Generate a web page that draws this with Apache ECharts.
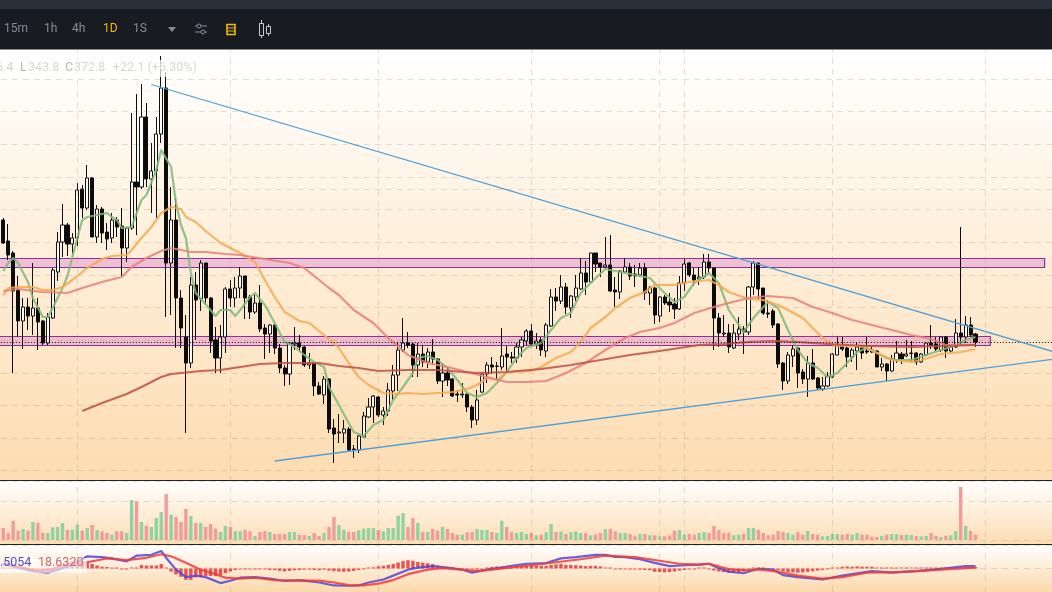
<!DOCTYPE html>
<html><head><meta charset="utf-8">
<style>html,body{margin:0;padding:0;background:#fff;overflow:hidden}#c{width:1052px;height:592px}</style>
<script src="https://cdn.jsdelivr.net/npm/echarts@6/dist/echarts.min.js"></script>
</head><body><div id="c"></div>
<script>
const open=[632,590,566,492,430,458,440,456,430,386,
436,528,588,622,584,596,694,656,716,598,
654,608,596,632,620,576,616,708,698,838,
714,730,804,896,546,632,476,398,346,502,
474,546,476,392,356,398,494,476,496,520,
478,448,466,416,404,422,376,336,324,384,
386,378,342,346,300,282,314,216,206,206,
214,174,172,198,238,258,278,242,250,290,
322,372,386,384,342,364,348,368,354,310,
326,314,284,282,284,258,232,288,324,342,
339,338,364,358,356,378,390,410,384,392,
370,420,478,470,498,456,478,494,526,508,
566,546,538,542,492,488,528,538,524,522,
536,486,496,440,478,468,464,454,506,546,
522,514,518,548,536,436,406,406,376,404,
414,408,498,546,496,446,450,424,346,310,
360,376,328,314,346,316,294,300,318,362,
380,376,358,370,378,370,372,370,338,344,
330,352,364,360,365,366,348,362,386,384,
372,398,370,378,406,398,422,404];
const close=[586,562,490,430,458,440,456,428,386,438,
532,588,622,584,596,692,656,716,598,654,
606,594,632,618,576,616,708,698,838,714,
730,804,896,546,632,476,416,346,502,472,
546,476,390,356,398,494,476,496,520,476,
448,466,414,404,422,376,336,324,386,386,
378,342,346,300,284,314,214,204,208,214,
172,173,200,240,258,280,242,250,292,322,
372,386,382,342,364,348,368,354,310,326,
312,280,282,284,258,232,272,324,342,338,
340,360,358,356,378,392,410,384,390,372,
422,478,470,498,458,480,496,526,508,566,
544,538,542,490,488,530,538,520,520,536,
486,496,442,478,466,462,454,506,544,522,
512,518,548,536,436,406,404,378,406,414,
408,498,546,494,446,444,422,344,310,362,
374,326,314,346,314,296,300,320,364,380,
374,358,372,378,366,368,368,338,344,330,
354,366,354,364,366,348,364,386,382,374,
398,370,378,406,398,422,402,388];
const high=[636,624,570,520,476,476,546,476,432,446,
536,608,664,626,606,706,702,742,718,662,
658,626,646,638,656,618,846,884,904,866,
786,838,960,928,698,676,492,442,518,528,
552,546,478,418,422,498,512,518,538,520,
482,482,502,424,424,424,384,342,386,418,
402,380,366,346,308,320,316,234,244,232,
218,182,202,248,276,282,280,258,306,342,
388,436,408,386,386,382,376,394,356,346,
338,316,292,306,286,262,292,326,348,358,
348,416,380,368,386,398,414,424,406,398,
426,494,496,522,506,482,522,556,550,566,
566,546,598,602,518,532,556,546,542,546,
546,500,498,480,482,486,476,520,554,548,
536,538,564,564,536,446,442,424,424,438,
420,500,550,546,496,472,454,426,348,368,
382,378,334,360,374,318,318,328,366,398,
398,382,376,386,380,398,378,372,356,346,
362,390,368,392,390,368,366,388,422,398,
398,400,382,434,618,440,438,406];
const low=[584,552,326,398,374,412,402,372,382,382,
434,510,558,560,564,580,636,652,598,586,
586,572,586,598,520,548,612,602,694,698,
646,636,786,438,442,376,376,206,336,392,
450,464,366,326,326,366,458,458,476,434,
434,444,408,354,366,364,326,300,302,372,
368,338,334,280,282,264,206,146,186,186,
170,156,166,198,236,226,238,222,240,272,
290,368,376,318,318,338,336,342,304,278,
300,278,268,276,248,216,222,286,306,324,
312,332,328,346,346,358,382,380,374,360,
358,418,450,464,444,436,470,492,482,506,
528,518,534,488,458,474,526,512,498,518,
472,462,424,428,462,448,434,452,490,518,
500,502,514,526,372,378,398,366,374,392,
364,402,482,474,442,436,416,336,292,304,
338,296,304,278,312,292,290,298,316,362,
370,338,348,332,354,364,366,338,330,310,
328,346,344,358,348,342,346,360,374,370,
368,356,368,376,382,386,398,378];
const volume=[36,21,58,28,33,28,54,51,21,21,
38,39,51,30,31,46,28,36,45,30,
26,21,16,26,26,21,120,116,54,43,
39,66,84,138,76,69,54,93,72,51,
51,39,48,34,24,42,39,26,26,30,
26,12,24,27,24,18,18,18,24,24,
15,15,12,21,12,21,39,69,45,31,
24,24,29,34,36,36,30,26,36,36,
73,81,39,66,51,24,24,33,28,39,
33,21,16,16,23,24,33,30,30,24,
21,58,39,24,21,24,18,21,14,16,
23,48,24,26,18,23,26,21,21,14,
16,21,33,33,26,21,21,18,11,18,
18,14,14,11,11,14,28,30,16,18,
16,21,24,21,42,30,21,21,14,16,
18,36,36,30,21,14,16,27,24,21,
16,24,16,27,18,16,11,12,18,18,
16,18,16,21,16,16,10,9,12,16,
18,18,15,16,15,12,11,12,21,12,
9,12,14,27,159,42,27,16];
const macdHist=[4,3,2,1,0,-2,-5,-7,-9,-10,
-8,-4,0,3,6,10,15,22,15,10,
6,5,3,1,-2,-2,2,0,12,10,
10,10,15,1,-10,-20,-28,-38,-38,-30,
-28,-25,-25,-25,-22,-16,-10,-5,-3,-2,
-1,-2,-3,-3,-5,-5,-8,-10,-8,-6,
-5,-4,-3,-5,-6,-4,-7,-9,-10,-11,
-10,-8,-5,-2,1,4,7,9,12,15,
20,25,28,26,22,20,18,15,10,6,
3,1,-1,-2,-3,-3,-4,-2,1,5,
7,7,6,7,8,9,10,11,10,9,
9,12,14,16,12,12,11,10,8,9,
9,7,3,1,-1,-1,-1,-2,-3,-4,
-5,-6,-11,-12,-13,-12,-10,-7,-5,-3,
-2,0,0,-1,-7,-10,-12,-14,-15,-13,
-9,-4,1,2,1,-1,-2,-6,-10,-12,
-13,-14,-13,-11,-9,-7,-5,-2,1,3,
6,7,6,7,6,6,6,3,2,2,
3,3,3,2,2,2,2,2,3,2,
3,3,3,3,4,4,4,5];
const ma7=[[0,530],[1,546],[2,556],[3,546],[5,508],[6,476],[8,438],[9,438],[10,456],[12,496],[13,520],[14,558],[15,596],[16,632],[17,638],[19,642],[21,646],[22,638],[23,632],[24,616],[26,618],[28,672],[29,682],[31,732],[32,772],[34,738],[35,666],[36,622],[37,596],[38,526],[39,486],[42,452],[43,440],[44,452],[46,452],[47,440],[48,452],[50,478],[51,486],[53,462],[55,426],[57,388],[59,378],[61,362],[63,348],[65,338],[66,298],[68,262],[71,208],[73,200],[75,222],[77,232],[79,272],[81,298],[83,326],[84,356],[86,360],[88,352],[90,336],[92,312],[94,286],[96,278],[98,286],[100,306],[102,328],[104,356],[106,376],[109,386],[111,412],[113,436],[115,446],[117,486],[119,506],[122,534],[126,526],[130,518],[131,516],[134,486],[136,468],[138,478],[140,506],[143,526],[145,506],[147,452],[150,408],[152,436],[154,458],[155,468],[157,456],[159,412],[161,372],[163,346],[165,336],[167,318],[169,326],[171,346],[173,368],[175,376],[177,366],[179,356],[181,352],[184,352],[187,362],[190,372],[192,378],[195,392],[197,398]];
const ma25=[[0,482],[1,496],[3,498],[6,498],[8,492],[10,492],[12,498],[14,512],[17,536],[20,554],[22,560],[25,562],[26,572],[28,596],[30,618],[32,646],[34,658],[36,654],[37,638],[39,628],[41,610],[44,586],[48,566],[51,548],[53,512],[55,478],[57,448],[60,430],[62,426],[65,402],[68,376],[70,346],[72,318],[74,302],[77,286],[80,284],[82,286],[85,284],[88,286],[91,288],[94,294],[96,302],[98,316],[100,312],[102,328],[107,330],[109,338],[112,356],[115,368],[117,388],[119,416],[122,438],[124,456],[127,476],[130,488],[132,502],[136,502],[139,508],[143,512],[145,502],[147,488],[151,474],[154,472],[157,462],[159,452],[162,436],[165,406],[167,388],[169,380],[173,380],[175,376],[178,362],[180,352],[184,348],[186,352],[190,364],[194,368],[197,374]];
const ma50=[[0,490],[3,494],[8,488],[13,486],[16,496],[20,508],[24,518],[26,538],[29,556],[32,570],[34,576],[38,568],[41,568],[45,564],[48,562],[53,554],[58,546],[61,536],[66,496],[68,482],[71,452],[75,426],[78,396],[82,362],[86,346],[90,338],[94,328],[98,318],[102,308],[106,308],[110,310],[114,326],[118,346],[122,372],[126,396],[129,408],[133,416],[136,426],[140,446],[144,458],[147,466],[151,476],[155,480],[160,476],[164,458],[168,446],[172,432],[176,422],[180,412],[184,402],[188,394],[191,382],[197,382]];
const ma200=[[16,250],[20,266],[25,284],[28,298],[32,318],[34,324],[40,330],[44,332],[48,338],[52,344],[57,346],[60,346],[64,346],[68,340],[72,336],[76,330],[82,332],[88,332],[96,326],[102,328],[109,334],[115,342],[121,352],[127,362],[133,370],[137,376],[141,382],[146,384],[151,388],[156,390],[161,388],[167,384],[175,380],[184,378],[191,380],[197,382]];
const dif=[[0,16],[3,3],[6,-9],[9,-14],[11,-4],[14,11],[17,41],[20,38],[22,34],[25,24],[27,43],[30,46],[32,59],[33,36],[35,-4],[37,-29],[39,-24],[41,-29],[44,-49],[46,-41],[48,-31],[51,-29],[54,-34],[57,-42],[60,-39],[64,-47],[67,-57],[70,-58],[72,-57],[74,-47],[77,-37],[79,-24],[82,-4],[84,3],[87,8],[90,3],[93,-4],[95,-14],[98,-4],[101,3],[103,9],[106,16],[110,18],[113,34],[116,38],[120,46],[122,46],[124,39],[126,38],[129,31],[132,19],[135,8],[138,11],[141,13],[143,16],[145,1],[147,-11],[150,-16],[153,-1],[156,-4],[158,-22],[161,-29],[166,-37],[170,-24],[176,-9],[180,-14],[185,-9],[190,-1],[195,8],[197,8]];
const dea=[[0,19],[3,6],[7,-7],[10,-1],[14,19],[17,21],[21,34],[25,28],[29,36],[32,48],[34,41],[37,19],[40,-4],[43,-19],[45,-31],[48,-34],[51,-31],[55,-39],[60,-41],[64,-41],[67,-47],[70,-56],[73,-57],[76,-51],[79,-39],[82,-19],[86,-4],[89,1],[93,-4],[96,-9],[99,-4],[103,4],[107,11],[112,21],[117,31],[122,43],[128,38],[133,26],[137,16],[141,13],[143,16],[147,-2],[150,-6],[153,-3],[157,-11],[161,-24],[166,-34],[170,-29],[175,-14],[181,-12],[185,-9],[190,-4],[197,3]];
const trendDown=[[30,903],[213,368]];
const trendUp=[[55,150],[213,354]];
const zoneUpper=[-3,211,537,555];
const zoneLower=[-3,200,381,399];
const lastPrice=387;
const extraLevel=694;
const monthTicks=[15,46,76,107,133,138,168,199];
const categories=Array.from({length:213},(_,i)=>'D'+i);

const candles=open.map((o,i)=>[o,close[i],low[i],high[i]]);
const GREEN='#8fd3a0',PINK='#f29c9a';
const volData=volume.map((v,i)=>({value:v,itemStyle:{color:close[i]>=open[i]?GREEN:PINK}}));
const grad=(a,b)=>({type:'linear',x:0,y:0,x2:0,y2:1,colorStops:[{offset:0,color:a},{offset:1,color:b}]});
const gridBase={left:0.83,width:1051.37,show:false};
const dashColor='rgba(140,115,90,0.22)';
const xa=(g)=>({type:'category',gridIndex:g,data:categories,show:false,boundaryGap:true});
const ya=(g,o)=>Object.assign({type:'value',gridIndex:g,scale:false,axisLine:{show:false},axisTick:{show:false},axisLabel:{show:false},splitLine:{show:true,lineStyle:{color:dashColor,type:[6,5],width:1}}},o);
const maLine=(name,data,color,w)=>({name,type:'line',xAxisIndex:0,yAxisIndex:0,data,showSymbol:false,symbol:'none',smooth:false,z:4,lineStyle:{color,width:w,opacity:0.85,join:'round'},silent:true});
const zoneSeries=(name,d)=>({name,type:'custom',xAxisIndex:0,yAxisIndex:0,z:1,clip:true,silent:true,data:[d],encode:{x:[0,1],y:[2,3]},
  renderItem:(p,api)=>{const a=api.coord([api.value(0),api.value(3)]),b=api.coord([api.value(1),api.value(2)]);
    return {type:'rect',shape:{x:a[0],y:a[1],width:b[0]-a[0],height:b[1]-a[1]},style:{fill:'rgba(214,120,200,0.38)',stroke:'#8e2ea3',lineWidth:1.2}};}});
const T=(text,x,y,fill,extra)=>({type:'text',z:101,style:Object.assign({text,x,y,fill,font:'12px Roboto',textVerticalAlign:'middle'},extra||{})});
const R=(x,y,w,h,fill,z)=>({type:'rect',z:z,silent:true,shape:{x,y,width:w,height:h},style:{fill}});
const S=(x,y,w,h,stroke,f,lw)=>({type:'rect',z:101,shape:{x,y,width:w,height:h},style:{fill:f||'none',stroke,lineWidth:lw||1}});
const L=(x1,y1,x2,y2,stroke,w)=>({type:'line',z:101,shape:{x1,y1,x2,y2},style:{stroke,lineWidth:w||1}});
const G='#848e9c',Y='#f0b90b';
const graphics=[
 R(0,50,1052,430.5,grad('#ffffff','#fddcb0'),-5),
 R(0,481,1052,63.5,grad('#ffffff','#fddcb2'),-5),
 R(0,545,1052,47,grad('#ffffff','#fdd9ac'),-5),
 R(0,480,1052,1,'#222222',60),
 R(0,544,1052,1,'#222222',60),
 R(0,60,198,17,'rgba(255,255,255,0.7)',50),
 R(0,558,87,15,'rgba(255,255,255,0.6)',50),
 T('6.4',-4,68,'#d3d3d3',{font:'12.5px Roboto'}),
 T('L',20,68,'#b5b5b5',{font:'12.5px Roboto'}),
 T('343.8',28,68,'#d6d6d6',{font:'12.5px Roboto'}),
 T('C',65,68,'#b5b5b5',{font:'12.5px Roboto'}),
 T('372.8',74,68,'#d6d6d6',{font:'12.5px Roboto'}),
 T('+22.1 (+6.30%)',113,68,'#d6d6d6',{font:'12.5px Roboto'}),
 T('.5054',0,563,'#4a4ad0',{font:'12.5px Roboto'}),
 T('18.6320',38,563,'#d86060',{font:'12.5px Roboto'}),
 R(0,0,1052,9,'#2b2f3a',100),
 R(0,9,1052,40.5,'#181b21',100),
 T('15m',4,29,G),T('1h',44,29,G),T('4h',72,29,G),T('1D',103,29,Y),T('1S',133,29,G),
 {type:'polygon',z:101,shape:{points:[[168,27],[176,27],[172,32]]},style:{fill:G}},
 L(195,26,207,26,G),L(195,32,207,32,G),
 {type:'circle',z:102,shape:{cx:199,cy:26,r:2},style:{fill:'#181b21',stroke:G}},
 {type:'circle',z:102,shape:{cx:203,cy:32,r:2},style:{fill:'#181b21',stroke:G}},
 S(227,24.5,8,10,Y,'none',1.6),L(227,28,235,28,Y),L(227,31,235,31,Y),
 S(259.5,23.5,4,12,'#c8ccd2'),L(261.5,20,261.5,23,'#c8ccd2'),L(261.5,36,261.5,38,'#c8ccd2'),
 S(266.5,26.5,4,7,'#c8ccd2'),L(268.5,24,268.5,26,'#c8ccd2'),L(268.5,34,268.5,36,'#c8ccd2')
];
const chart=echarts.init(document.getElementById('c'),null,{renderer:'canvas'});
chart.setOption({
 animation:false,
 grid:[
  Object.assign({top:46.25,height:424.45},gridBase),
  Object.assign({top:481,height:59},gridBase),
  Object.assign({top:545,height:52.7},gridBase),
  Object.assign({top:50,height:542},gridBase)
 ],
 xAxis:[xa(0),xa(1),xa(2),xa(3)],
 yAxis:[
  ya(0,{min:130.6,max:979.5,interval:65.3}),
  ya(1,{min:0,max:177,interval:116}),
  ya(2,{min:-79,max:79,interval:79}),
  ya(3,{min:0,max:1,show:false})
 ],
 graphic:{elements:graphics},
 series:[
  {name:'grid',type:'line',xAxisIndex:3,yAxisIndex:3,data:[],z:0,silent:true,
   markLine:{silent:true,symbol:'none',label:{show:false},animation:false,lineStyle:{color:dashColor,type:[6,5],width:1},data:monthTicks.map(i=>({xAxis:i}))}},
  zoneSeries('Upper zone',zoneUpper),
  zoneSeries('Lower zone',zoneLower),
  {name:'Price',type:'candlestick',xAxisIndex:0,yAxisIndex:0,data:candles,barWidth:3.6,z:3,silent:true,
   itemStyle:{color:'rgba(255,255,255,0.75)',color0:'#0b0b0b',borderColor:'#111111',borderColor0:'#0b0b0b',borderWidth:1},
   markLine:{silent:true,symbol:'none',label:{show:false},animation:false,data:[
     {yAxis:lastPrice,lineStyle:{color:'#000',type:[1,2],width:1}},
     {yAxis:extraLevel,lineStyle:{color:dashColor,type:[6,5],width:1}}]}},
  maLine('MA7',ma7,'#7fb878',2.2),
  maLine('MA25',ma25,'#f5a94d',2.2),
  maLine('MA50',ma50,'#e77f78',2.2),
  maLine('MA200',ma200,'#bf4f45',2.2),
  {name:'Trend down',type:'line',xAxisIndex:0,yAxisIndex:0,data:trendDown,symbol:'none',z:5,silent:true,lineStyle:{color:'#4f9fd8',width:1.3}},
  {name:'Trend up',type:'line',xAxisIndex:0,yAxisIndex:0,data:trendUp,symbol:'none',z:5,silent:true,lineStyle:{color:'#4f9fd8',width:1.3}},
  {name:'Volume',type:'bar',xAxisIndex:1,yAxisIndex:1,data:volData,barWidth:3.4,silent:true,z:3},
  {name:'MACD',type:'bar',xAxisIndex:2,yAxisIndex:2,data:macdHist,barWidth:3.4,barMinHeight:1,silent:true,z:3,itemStyle:{color:'#ee4f4f'}},
  {name:'DIF',type:'line',xAxisIndex:2,yAxisIndex:2,data:dif,symbol:'none',smooth:false,z:4,silent:true,lineStyle:{color:'#4a48d8',width:2.2,opacity:0.85}},
  {name:'DEA',type:'line',xAxisIndex:2,yAxisIndex:2,data:dea,symbol:'none',smooth:false,z:4,silent:true,lineStyle:{color:'#f23a3a',width:2.2,opacity:0.85}}
 ]
});
</script></body></html>
